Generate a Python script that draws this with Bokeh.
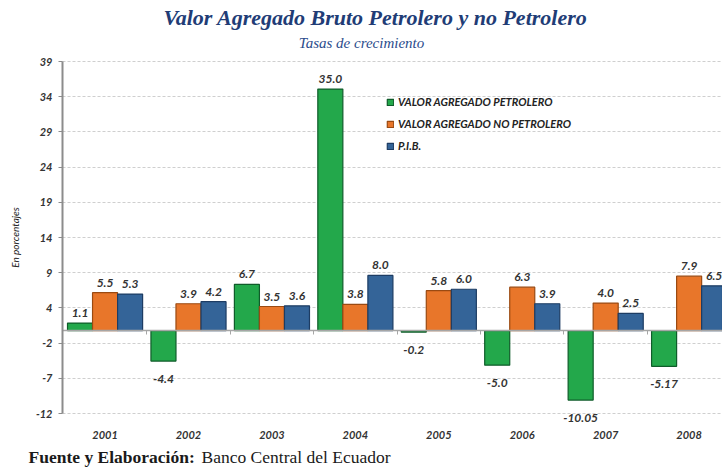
import numpy as np
from bokeh.plotting import figure
from bokeh.models import (Range1d, FixedTicker, ColumnDataSource, LabelSet, Label,
                          LinearAxis)
from bokeh.transform import dodge
from bokeh.embed import file_html
from bokeh.resources import INLINE
from bokeh.core.properties import value

# ---------------- data ----------------
years = ["2001", "2002", "2003", "2004", "2005", "2006", "2007", "2008"]
petrolero = [1.1, -4.4, 6.7, 35.0, -0.2, -5.0, -10.05, -5.17]
petrolero_labels = ["1.1", "-4.4", "6.7", "35.0", "-0.2", "-5.0", "-10.05", "-5.17"]
no_petrolero = [5.5, 3.9, 3.5, 3.8, 5.8, 6.3, 4.0, 7.9]
no_petrolero_labels = ["5.5", "3.9", "3.5", "3.8", "5.8", "6.3", "4.0", "7.9"]
pib = [5.3, 4.2, 3.6, 8.0, 6.0, 3.9, 2.5, 6.5]
pib_labels = ["5.3", "4.2", "3.6", "8.0", "6.0", "3.9", "2.5", "6.5"]
series_names = ["VALOR AGREGADO PETROLERO", "VALOR AGREGADO NO PETROLERO", "P.I.B."]
y_min, y_max = -12, 39
y_tick_labels = ["-12", "-7", "-2", "4", "9", "14", "19", "24", "29", "34", "39"]
title_text = "Valor Agregado Bruto Petrolero y no Petrolero"
subtitle_text = "Tasas de crecimiento"
source_bold = "Fuente y Elaboración:"
source_text = "Banco Central del Ecuador"

# ---------------- layout / styles ----------------
W, H = 722, 468
plot_left_px, plot_top_px, plot_bottom_px = 62, 61, 413   # plot area inside canvas
x_lo, x_hi = -0.51, 7.40                                   # visible category span
fills = ["#23A84B", "#E8762A", "#346498"]
lines = ["#0F5C2A", "#9A4A12", "#1D3C63"]
label_font = "Lato"
dark = "#333333"
axis_gray = "#8C8C8C"

px_x = (W - plot_left_px) / (x_hi - x_lo)
px_y = (plot_bottom_px - plot_top_px) / (y_max - y_min)
x_start = x_lo - plot_left_px / px_x
y_top = y_max + plot_top_px / px_y
y_bottom = y_min - (H - plot_bottom_px) / px_y

idx = list(range(len(years)))
y_ticks = list(np.linspace(y_min, y_max, len(y_tick_labels)))
bounds = [i + 0.5 for i in idx]

p = figure(width=W, height=H, output_backend="svg", toolbar_location=None,
           x_range=Range1d(x_start, x_hi), y_range=Range1d(y_bottom, y_top),
           min_border=0, x_axis_type=None, y_axis_type=None)
p.outline_line_color = None

# dashed horizontal grid lines drawn from the value axis across the plot area
gax = LinearAxis(fixed_location=x_lo, bounds=(y_min, y_max),
                 ticker=FixedTicker(ticks=y_ticks), axis_line_color=None,
                 major_tick_in=W - plot_left_px, major_tick_out=0,
                 major_tick_line_color="#CFCFCF", major_tick_line_dash="3 2",
                 major_tick_line_width=1, minor_tick_line_color=None,
                 major_label_text_color=None, level="underlay")
p.add_layout(gax, "left")

# bars
src = ColumnDataSource(dict(idx=idx, petro=petrolero, nopetro=no_petrolero, pib=pib,
                            petro_lbl=petrolero_labels, nopetro_lbl=no_petrolero_labels,
                            pib_lbl=pib_labels,
                            petro_off=[6 if v >= 0 else -22 for v in petrolero],
                            nopetro_off=[6 if v >= 0 else -22 for v in no_petrolero],
                            pib_off=[6 if v >= 0 else -22 for v in pib]))
cols = ["petro", "nopetro", "pib"]
offsets = [-0.3, 0.0, 0.3]
for c, off, f, lc, name in zip(cols, offsets, fills, lines, series_names):
    p.vbar(x=dodge("idx", off, range=p.x_range), top=c, bottom=0, width=0.3,
           source=src, fill_color=f, line_color=lc, line_width=1.2, legend_label=name)

# y axis (placed at the left edge of the plot area)
yax = LinearAxis(fixed_location=x_lo, bounds=(y_min, y_max),
                 ticker=FixedTicker(ticks=y_ticks),
                 major_label_overrides={tk: lb for tk, lb in zip(y_ticks, y_tick_labels)},
                 axis_line_color=axis_gray, axis_line_width=2,
                 major_tick_line_color=axis_gray, major_tick_out=4, major_tick_in=0,
                 minor_tick_line_color=None, major_label_standoff=6,
                 major_label_text_font=label_font, major_label_text_font_style="bold italic",
                 major_label_text_font_size="11px", major_label_text_color=dark,
                 axis_label="En porcentajes", axis_label_text_font=label_font,
                 axis_label_text_font_style="italic", axis_label_text_font_size="10px",
                 axis_label_text_color="#222222", axis_label_standoff=12)
p.add_layout(yax, "left")

# category axis crossing at zero (tick marks at category boundaries)
zax = LinearAxis(fixed_location=0, bounds=(x_lo, x_hi), ticker=FixedTicker(ticks=bounds),
                 axis_line_color="#A6A6A6", axis_line_width=1.5,
                 major_tick_line_color="#A6A6A6", major_tick_out=4, major_tick_in=0,
                 minor_tick_line_color=None, major_label_text_color=None)
p.add_layout(zax, "below")

# year labels along the bottom of the plot area
xax = LinearAxis(fixed_location=y_min, ticker=FixedTicker(ticks=idx),
                 major_label_overrides={i: y for i, y in zip(idx, years)},
                 axis_line_color=None, major_tick_line_color=None,
                 minor_tick_line_color=None, major_label_standoff=11,
                 major_label_text_font=label_font, major_label_text_font_style="bold italic",
                 major_label_text_font_size="11px", major_label_text_color=dark)
p.add_layout(xax, "below")

# value labels
for c, off in zip(cols, offsets):
    p.add_layout(LabelSet(x=dodge("idx", off, range=p.x_range), y=c, text=c + "_lbl",
                          y_offset=c + "_off", source=src, text_align="center",
                          text_baseline="bottom", text_font=value(label_font),
                          text_font_style="bold italic", text_font_size="12px",
                          text_color=dark))

# legend
lg = p.legend[0]
lg.location = (386, 313)
lg.background_fill_alpha = 0
lg.border_line_alpha = 0
lg.padding = 0
lg.margin = 0
lg.spacing = 3
lg.label_height = 19
lg.glyph_height = 8
lg.glyph_width = 8
lg.label_standoff = 4
lg.label_text_font = label_font
lg.label_text_font_style = "bold italic"
lg.label_text_font_size = "11px"
lg.label_text_color = "#222222"

# titles and source note
p.add_layout(Label(x=375, y=H - 17, x_units="screen", y_units="screen", text=title_text,
                   text_align="center", text_baseline="middle",
                   text_font="Liberation Serif", text_font_style="bold italic",
                   text_font_size="22px", text_color="#213C76"))
p.add_layout(Label(x=361, y=H - 42, x_units="screen", y_units="screen", text=subtitle_text,
                   text_align="center", text_baseline="middle",
                   text_font="Liberation Serif", text_font_style="italic",
                   text_font_size="15px", text_color="#2B4C8C"))
p.add_layout(Label(x=28, y=H - 456, x_units="screen", y_units="screen", text=source_bold,
                   text_align="left", text_baseline="middle",
                   text_font="Liberation Serif", text_font_style="bold",
                   text_font_size="17.5px", text_color="#1A1A1A"))
p.add_layout(Label(x=201, y=H - 456, x_units="screen", y_units="screen", text=source_text,
                   text_align="left", text_baseline="middle",
                   text_font="Liberation Serif", text_font_style="normal",
                   text_font_size="17.5px", text_color="#1A1A1A"))

open("out.html", "w").write(file_html(p, INLINE))
